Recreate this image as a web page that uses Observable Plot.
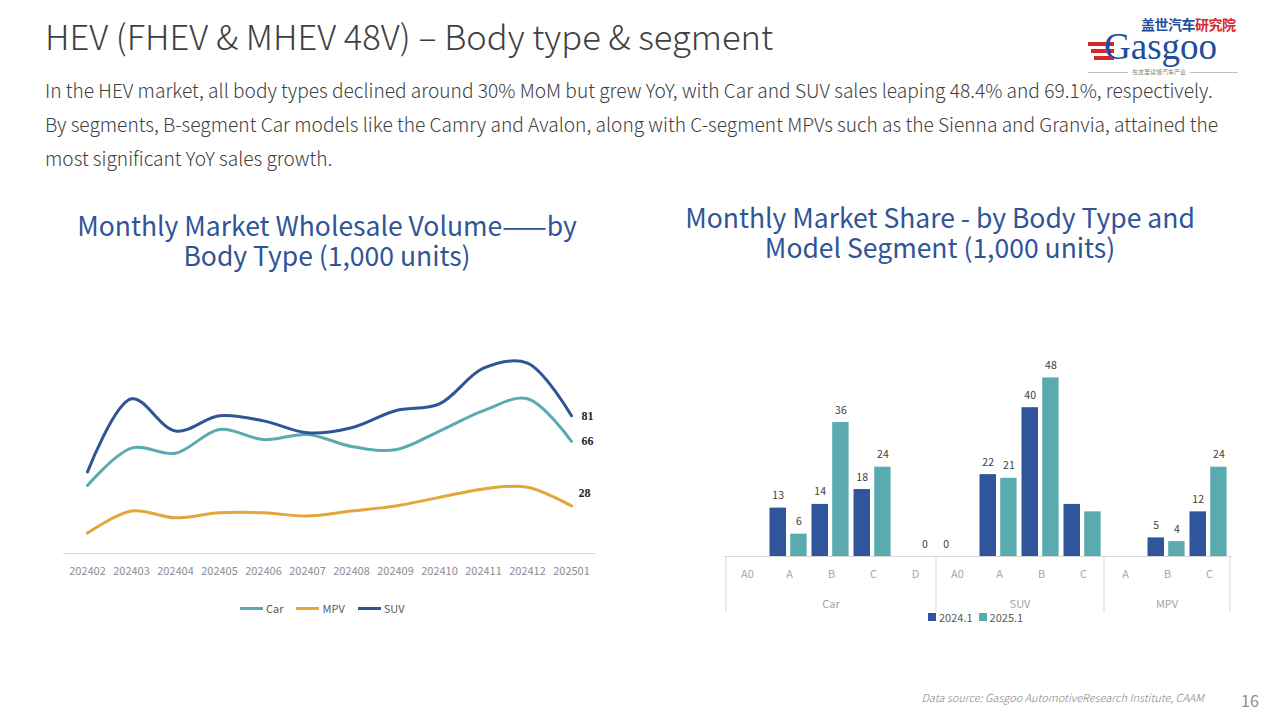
<!DOCTYPE html>
<html><head><meta charset="utf-8">
<script src="https://cdn.jsdelivr.net/npm/d3@7"></script>
<script src="https://cdn.jsdelivr.net/npm/@observablehq/plot@0.6"></script>
<style>
body{margin:0;width:1280px;height:720px;background:#fff;position:relative;overflow:hidden;font-family:"Noto Sans CJK SC","Noto Sans",sans-serif;}
.abs{position:absolute}
#title{left:45px;top:11px;font-size:34.5px;line-height:48px;color:#404040;font-weight:300;white-space:nowrap}
#sub{left:45px;top:73px;font-size:19.15px;line-height:34px;color:#404040;font-weight:300;white-space:nowrap}
.ctitle{position:absolute;color:#2f5597;font-size:26.5px;line-height:30px;font-weight:400;text-align:center;white-space:nowrap}
.leg{position:absolute;display:flex;align-items:center;font-size:11px;color:#595959;white-space:nowrap}
.leg .sw{display:inline-block;width:23px;height:3px;margin-right:3px}
.leg .sq{display:inline-block;width:8px;height:8px;margin-right:3px}
.leg .it{display:flex;align-items:center;margin-right:13px}
</style></head>
<body>
<div id="title" class="abs">HEV (FHEV &amp; MHEV 48V) – Body type &amp; segment</div>
<div id="sub" class="abs">In the HEV market, all body types declined around 30% MoM but grew YoY, with Car and SUV sales leaping 48.4% and 69.1%, respectively.<br>By segments, B-segment Car models like the Camry and Avalon, along with C-segment MPVs such as the Sienna and Granvia, attained the<br>most significant YoY sales growth.</div>

<div class="abs" style="left:1086px;top:14px;width:155px;height:64px;">
  <div class="abs" style="left:55px;top:3px;font-size:14px;line-height:14px;font-weight:bold;color:#1f4e9a;white-space:nowrap;letter-spacing:-0.5px">盖世汽车<span style="color:#d7262c">研究院</span></div>
  <div class="abs" style="left:2px;top:28px;width:26px;height:4px;background:#d7262c"></div>
  <div class="abs" style="left:5px;top:35px;width:23px;height:4px;background:#d7262c"></div>
  <div class="abs" style="left:8px;top:42px;width:20px;height:4px;background:#d7262c"></div>
  <div class="abs" style="left:18px;top:18px;font-family:'Liberation Serif',serif;font-size:37px;line-height:30px;color:#1f4e9a;">Gasgoo</div>
  <div class="abs" style="left:2px;top:58px;width:150px;height:1px;background:#bfbfbf"></div>
  <div class="abs" style="left:42px;top:54px;padding:0 4px;background:#fff;font-size:6px;line-height:8px;color:#7f7f7f;white-space:nowrap">在这里读懂汽车产业</div>
</div>

<div class="ctitle" style="left:47px;top:210px;width:560px;">Monthly Market Wholesale Volume——by<br>Body Type (1,000 units)</div>
<div class="ctitle" style="left:640px;top:202px;width:600px;">Monthly Market Share - by Body Type and<br>Model Segment (1,000 units)</div>

<div id="left" class="abs" style="left:50px;top:330px;"></div>
<div id="right" class="abs" style="left:700px;top:340px;"></div>

<div id="legL" class="leg" style="left:240px;top:600px;"></div>
<div id="legR" class="leg" style="left:928px;top:609px;"></div>

<div class="abs" style="right:76px;top:689px;font-size:11px;font-style:italic;font-weight:300;color:#7f7f7f;white-space:nowrap">Data source: Gasgoo AutomotiveResearch Institute, CAAM</div>
<div class="abs" style="left:1241px;top:688px;font-size:16px;color:#8c8c8c;">16</div>

<script>
// ---------- Left chart data ----------
const months = ["202402","202403","202404","202405","202406","202407","202408","202409","202410","202411","202412","202501"];
const carVals = [40, 62, 59, 73, 67, 70, 63, 61, 72, 84, 91, 66];
const mpvVals = [12, 25, 21, 24, 24, 22, 25, 28, 33, 38, 39, 28];
const suvVals = [48, 91, 72, 81, 78, 71, 74, 84, 88, 109, 112, 81];
const seriesNames = ["Car", "MPV", "SUV"];
const lineColors = ["#5aabb0", "#e3a63b", "#2f5597"];

// ---------- Right chart data ----------
const bodyGroups = ["Car","Car","Car","Car","Car","SUV","SUV","SUV","SUV","MPV","MPV","MPV"];
const segments   = ["A0","A","B","C","D","A0","A","B","C","A","B","C"];
const vals2024   = [null, 13, 14, 18, null, 0, 22, 40, 14, null, 5, 12];
const vals2025   = [null, 6, 36, 24, 0, null, 21, 48, 12, null, 4, 24];
const labels2024 = ["", "13", "14", "18", "", "0", "22", "40", "", "", "5", "12"];
const labels2025 = ["", "6", "36", "24", "0", "", "21", "48", "", "", "4", "24"];
const barSeries = ["2024.1", "2025.1"];
const barColors = ["#2f559a", "#5aabb0"];

const FONT = '"Noto Sans CJK SC","Noto Sans",sans-serif';

// ---------- Left line chart ----------
const seriesVals = {Car: carVals, MPV: mpvVals, SUV: suvVals};
const lineData = seriesNames.flatMap(s => months.map((m, i) => ({month: m, series: s, value: seriesVals[s][i]})));
const lastMonth = months[months.length - 1];
const endPts = lineData.filter(d => d.month === lastMonth);

const left = Plot.plot({
  width: 560, height: 260,
  marginLeft: 13, marginRight: 15, marginTop: 19, marginBottom: 37,
  style: {fontFamily: FONT, fontSize: "11px", color: "#8c8c8c", background: "transparent"},
  x: {type: "point", domain: months, padding: 0.5, label: null, tickSize: 0, tickPadding: 14},
  y: {domain: [0, 120], axis: null},
  color: {domain: seriesNames, range: lineColors},
  marks: [
    Plot.ruleY([0], {stroke: "#d9d9d9", strokeWidth: 1}),
    Plot.line(lineData, {x: "month", y: "value", z: "series", stroke: "series", strokeWidth: 3, curve: "catmull-rom"}),
    Plot.text(endPts.filter(d => d.series !== "MPV"), {x: "month", y: "value", text: d => String(d.value), dx: 10, textAnchor: "start", fill: "#262626", fontWeight: "bold", fontFamily: "Liberation Serif, serif", fontSize: 12}),
    Plot.text(endPts.filter(d => d.series === "MPV"), {x: "month", y: "value", text: d => String(d.value), dx: 7, dy: -13, textAnchor: "start", fill: "#262626", fontWeight: "bold", fontFamily: "Liberation Serif, serif", fontSize: 12})
  ]
});
document.getElementById("left").appendChild(left);

// legend left
const legL = document.getElementById("legL");
seriesNames.forEach((s, i) => {
  const it = document.createElement("div"); it.className = "it";
  it.innerHTML = `<span class="sw" style="background:${lineColors[i]}"></span><span>${s}</span>`;
  legL.appendChild(it);
});

// ---------- Right bar chart ----------
const keys = segments.map((s, i) => bodyGroups[i] + "|" + s);
const rows = keys.map((k, i) => ({key: k, v24: vals2024[i], v25: vals2025[i], l24: labels2024[i], l25: labels2025[i]}));

const right = Plot.plot({
  width: 560, height: 300,
  marginLeft: 24.5, marginRight: 28, marginTop: 30, marginBottom: 84,
  style: {fontFamily: FONT, fontSize: "11px", color: "#a6a6a6", background: "transparent"},
  x: {type: "band", domain: keys, padding: 0, label: null, tickSize: 0, tickPadding: 14, tickFormat: k => k.split("|")[1]},
  y: {domain: [0, 50], axis: null},
  marks: [
    Plot.barY(rows.filter(d => d.v24 != null), {x: "key", y: "v24", fill: barColors[0], insetLeft: 1.5, insetRight: 24}),
    Plot.barY(rows.filter(d => d.v25 != null), {x: "key", y: "v25", fill: barColors[1], insetLeft: 22.2, insetRight: 3.4}),
    Plot.ruleY([0], {stroke: "#d9d9d9", strokeWidth: 1}),
    Plot.text(rows.filter(d => d.l24 !== ""), {x: "key", y: "v24", text: "l24", dx: -11.3, dy: -9, lineAnchor: "bottom", fill: "#404040", fontSize: 10.5}),
    Plot.text(rows.filter(d => d.l25 !== ""), {x: "key", y: "v25", text: "l25", dx: 9.4, dy: -9, lineAnchor: "bottom", fill: "#404040", fontSize: 10.5})
  ]
});
document.getElementById("right").appendChild(right);

// group dividers & group labels, placed with Plot's own x and y scales
(function () {
  const xs = right.scale("x"), ys = right.scale("y");
  const bw = xs.bandwidth;
  const base = ys.apply(0);
  const svg = d3.select(right);
  const g = svg.append("g");
  const uniq = [...new Set(bodyGroups)];
  const edges = new Set();
  uniq.forEach(grp => {
    const ks = keys.filter((k, i) => bodyGroups[i] === grp);
    const x0 = xs.apply(ks[0]), x1 = xs.apply(ks[ks.length - 1]) + bw;
    edges.add(Math.round(x0 * 10) / 10); edges.add(Math.round(x1 * 10) / 10);
    g.append("text").attr("x", (x0 + x1) / 2).attr("y", base + 48)
      .attr("text-anchor", "middle").attr("dy", "0.35em")
      .attr("fill", "#a6a6a6").attr("font-size", 11).attr("font-family", FONT).text(grp);
  });
  [...edges].forEach(x => {
    g.append("line").attr("x1", x).attr("x2", x).attr("y1", base).attr("y2", base + 56)
      .attr("stroke", "#d9d9d9").attr("stroke-width", 1);
  });
})();

// legend right
const legR = document.getElementById("legR");
barSeries.forEach((s, i) => {
  const it = document.createElement("div"); it.className = "it"; it.style.marginRight = "6px";
  it.innerHTML = `<span class="sq" style="background:${barColors[i]}"></span><span>${s}</span>`;
  legR.appendChild(it);
});
</script>
</body></html>
